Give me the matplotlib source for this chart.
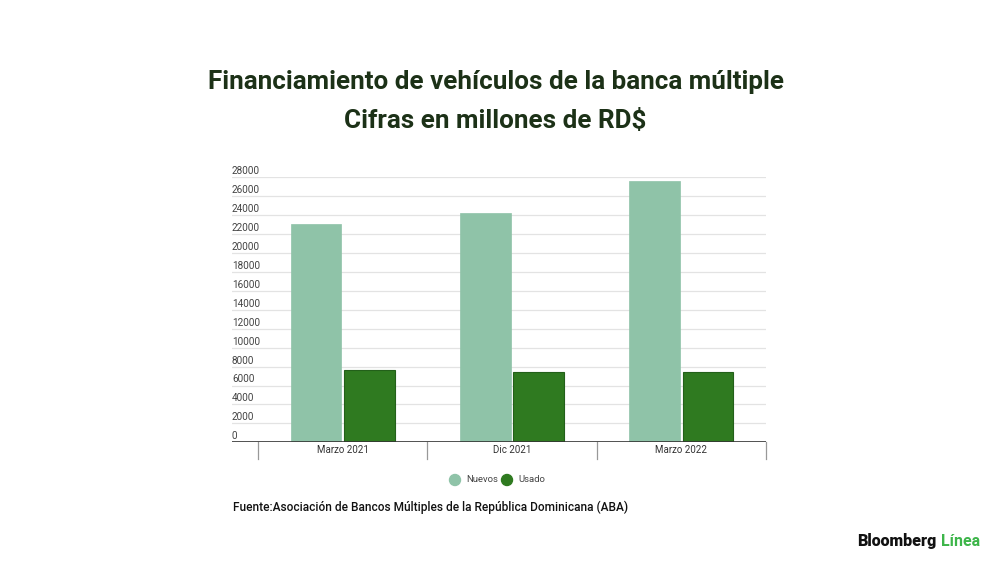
import matplotlib
matplotlib.use("Agg")
import matplotlib.pyplot as plt
import numpy as np

categories = ["Marzo 2021", "Dic 2021", "Marzo 2022"]
nuevos = [23100, 24200, 27650]
usado = [7650, 7450, 7430]
yticks = list(range(0, 28001, 2000))
series_names = ["Nuevos", "Usado"]
colors = ["#8fc3a8", "#2f7a20"]

plt.rcParams['font.family'] = ['Roboto', 'DejaVu Sans']

W, H = 1000, 562
fig = plt.figure(figsize=(W/100, H/100), dpi=100)
fig.patch.set_facecolor("white")

# axes pixel box: x 232..766, y 177..442 (top = 28000)
x0, x1 = 232, 766
ytop, ybot = 177.3, 442.3
ax = fig.add_axes([x0/W, 1-ybot/H, (x1-x0)/W, (ybot-ytop)/H])
catw = 169.33
xl = -0.5 - (258-232)/catw
ax.set_xlim(xl, 2.5)
ax.set_ylim(0, 28000)

x = np.arange(len(categories))
bw = 0.30
off = 0.157
ax.bar(x-off, nuevos, bw, color=colors[0], edgecolor=colors[0], linewidth=0.5, zorder=3)
ax.bar(x+off, usado, bw, color=colors[1], edgecolor="#23601a", linewidth=0.8, zorder=3)

for s in ax.spines.values():
    s.set_visible(False)
ax.set_xticks([])
ax.set_yticks([])
for v in yticks[1:]:
    ax.axhline(v, color="#e3e3e3", linewidth=0.9, zorder=1)
ax.axhline(0, color="#333333", linewidth=1.2, zorder=4)

# y labels above gridlines, left aligned
for v in yticks:
    ax.text(xl, v + 640, str(v), ha="left", va="center", fontsize=7.2, color="#444444",
            transform=ax.transData)

# category separators and labels
for b in [-0.5, 0.5, 1.5, 2.5]:
    ax.plot([b, b], [0, -1750], color="#999999", linewidth=0.9, clip_on=False, zorder=2)
for i, c in enumerate(categories):
    ax.text(i, -850, c, ha="center", va="center", fontsize=7, color="#333333")

# legend
ly = 1 - 480/H
for px, col, name in [(455, colors[0], series_names[0]), (507, colors[1], series_names[1])]:
    fig.patches.append(matplotlib.patches.Ellipse((px/W, ly), 11/W, 11/H, transform=fig.transFigure,
                                                  color=col, figure=fig))
    fig.text((px+11)/W, ly, name, ha="left", va="center", fontsize=6.8, color="#444444")

# title
tcol = "#1c3117"
fig.text(0.4955, 1-82/H, "Financiamiento de vehículos de la banca múltiple", ha="center", va="center",
         fontsize=18.7, fontweight="bold", color=tcol)
fig.text(0.4955, 1-121/H, "Cifras en millones de RD$", ha="center", va="center",
         fontsize=18.7, fontweight="bold", color=tcol)

# source
fig.text(233/W, 1-507/H, "Fuente:Asociación de Bancos Múltiples de la República Dominicana (ABA)",
         ha="left", va="center", fontsize=8.6, fontweight="medium", color="#111111")

# logo
fig.text(857/W, 1-541/H, "Bloomberg", ha="left", va="center", fontsize=11.5, fontweight="heavy",
         color="#111111")
fig.text(941/W, 1-541/H, "Línea", ha="left", va="center", fontsize=11.5, fontweight="bold",
         color="#3db54a")

fig.savefig("out.png", dpi=100, facecolor="white")
